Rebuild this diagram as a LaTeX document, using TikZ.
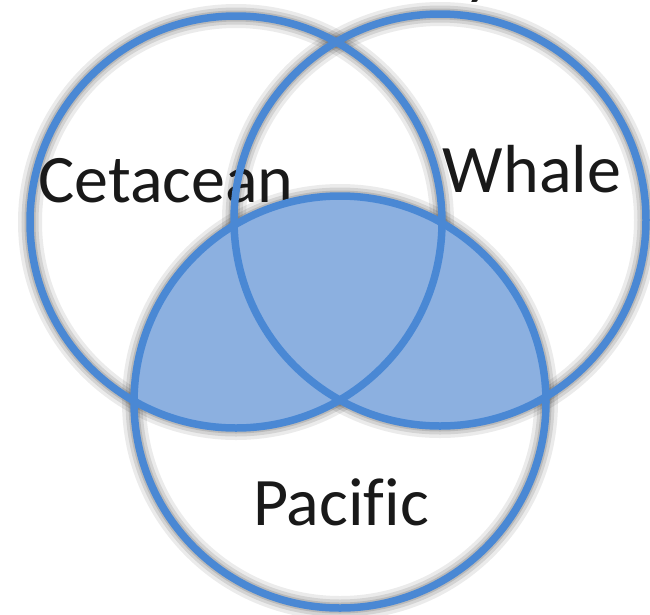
\documentclass[tikz,border=0pt]{standalone}
\usepackage{fontspec}
\setmainfont{Carlito}[Ligatures=CommonOff]
\definecolor{ringblue}{RGB}{74,136,212}
\definecolor{lensblue}{RGB}{140,176,224}
\tikzset{
  ring/.style={draw=ringblue, line width=7.5pt},
  lens/.style={fill=lensblue},
  setlabel/.style={font=\fontsize{68}{74}\selectfont, text=black!90, anchor=base, inner sep=0pt},
  halo/.style={draw=black, line width=#1},
}
\begin{document}
\begin{tikzpicture}[x=1pt,y=-1pt]
  \useasboundingbox[fill=white] (0,0) rectangle (650,614);
  \def\R{206pt}
  \coordinate (cet) at (236,222);
  \coordinate (wha) at (440,220);
  \coordinate (pac) at (340,402);

  % soft shadows of the three rings, cast up and to the left
  \begin{scope}[shift={(-10,-11)}]
    \foreach \w/\o in {24/0.08, 17/0.10, 11/0.12, 6/0.15} {
      \foreach \c in {cet,wha,pac}
        \draw[halo=\w pt, opacity=\o] (\c) circle[radius=\R];
    }
  \end{scope}

  % Pacific region that lies inside Cetacean or Whale
  \begin{scope}
    \clip (pac) circle[radius=\R];
    \fill[lens] (cet) circle[radius=\R];
    \fill[lens] (wha) circle[radius=\R];
  \end{scope}

  % set names
  \node[setlabel] (lcet) at (166,202) {Cetacean};
  \node[setlabel] (lwha) at (532,192) {Whale};
  \node[setlabel] (lpac) at (341,525) {Pacific};
  \node[setlabel, anchor=base west] (ltop) at (464,-9) {y};

  % ring outlines
  \draw[ring] (cet) circle[radius=\R];
  \draw[ring] (wha) circle[radius=\R];
  \draw[ring] (pac) circle[radius=\R];
\end{tikzpicture}
\end{document}
